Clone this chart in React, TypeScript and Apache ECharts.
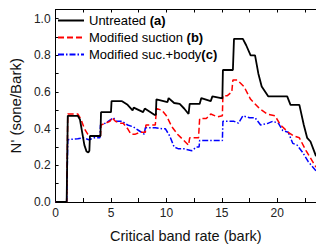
import React, { useEffect, useRef } from "react";
import * as echarts from "echarts";

// Untreated (a)
const untreatedX = [0, 1.0, 1.1, 2.0, 2.2, 2.4, 2.6, 2.8, 2.95, 3.05, 3.1, 4.05, 4.1, 5.0, 5.05, 6.0, 6.5, 6.95, 7.05, 7.9, 8.05, 8.95, 9.05, 9.1, 10.1, 10.2, 10.7, 11.2, 11.6, 12.0, 12.1, 13.0, 13.15, 14.0, 14.15, 15.05, 15.1, 16.0, 16.1, 16.9, 17.2, 17.6, 18.0, 18.3, 18.6, 19.2, 20.9, 21.2, 22.0, 22.4, 22.7, 23.0, 23.5];
const untreatedY = [0, 0, 0.47, 0.47, 0.45, 0.38, 0.31, 0.275, 0.27, 0.28, 0.36, 0.36, 0.49, 0.49, 0.55, 0.55, 0.53, 0.5, 0.515, 0.49, 0.51, 0.475, 0.475, 0.56, 0.545, 0.567, 0.54, 0.535, 0.51, 0.48, 0.535, 0.535, 0.567, 0.55, 0.576, 0.565, 0.72, 0.72, 0.89, 0.89, 0.855, 0.8, 0.8, 0.7, 0.63, 0.576, 0.576, 0.53, 0.53, 0.42, 0.35, 0.33, 0.25];

// Modified suction (b)
const suctionX = [0, 1.0, 1.1, 2.0, 2.3, 2.6, 2.9, 3.1, 4.05, 4.1, 4.5, 4.9, 5.1, 5.4, 5.8, 6.1, 6.5, 6.8, 7.2, 7.6, 8.1, 8.15, 9.0, 9.1, 9.6, 10.0, 10.5, 11.0, 11.5, 12.0, 12.1, 12.9, 13.0, 13.6, 14.0, 14.6, 15.05, 15.1, 15.5, 15.9, 16.0, 16.4, 17.0, 17.6, 18.4, 19.1, 19.8, 20.3, 21.0, 21.5, 22.0, 22.6, 23.5];
const suctionY = [0, 0, 0.48, 0.48, 0.45, 0.4, 0.37, 0.36, 0.36, 0.42, 0.43, 0.44, 0.46, 0.44, 0.43, 0.43, 0.4, 0.37, 0.37, 0.38, 0.38, 0.42, 0.42, 0.51, 0.5, 0.47, 0.41, 0.37, 0.34, 0.31, 0.35, 0.35, 0.455, 0.455, 0.48, 0.465, 0.47, 0.58, 0.58, 0.6, 0.665, 0.665, 0.63, 0.56, 0.51, 0.48, 0.47, 0.42, 0.38, 0.36, 0.35, 0.28, 0.19];

// Modified suc.+body (c)
const bodyX = [0, 1.0, 1.1, 2.0, 2.5, 3.0, 3.5, 4.0, 4.05, 4.5, 5.0, 5.2, 5.5, 6.0, 6.5, 7.0, 7.5, 8.0, 8.1, 9.0, 9.6, 9.9, 10.3, 10.7, 11.1, 11.6, 12.3, 12.7, 12.95, 13.0, 14.0, 15.05, 15.1, 16.1, 16.5, 16.9, 17.5, 18.0, 18.5, 19.2, 19.6, 20.1, 20.5, 21.0, 21.4, 21.8, 22.3, 22.8, 23.5];
const bodyY = [0, 0, 0.34, 0.345, 0.35, 0.34, 0.35, 0.35, 0.42, 0.43, 0.45, 0.46, 0.44, 0.44, 0.42, 0.41, 0.39, 0.37, 0.405, 0.405, 0.4, 0.4, 0.36, 0.3, 0.29, 0.29, 0.28, 0.3, 0.3, 0.335, 0.335, 0.335, 0.44, 0.44, 0.43, 0.47, 0.46, 0.46, 0.42, 0.43, 0.44, 0.43, 0.39, 0.38, 0.32, 0.31, 0.27, 0.22, 0.17];

const seriesNames = ["Untreated", "Modified suction", "Modified suc.+body"];
const seriesTags = ["(a)", "(b)", "(c)"];
const seriesLabels = ["Untreated ", "Modified suction ", "Modified suc.+body"];

const xTickLabels = [0, 5, 10, 15, 20];
const xTicks = [0, 2.5, 5, 7.5, 10, 12.5, 15, 17.5, 20, 22.5];
const yTickLabels = [0, 0.2, 0.4, 0.6, 0.8, 1.0];
const yTicks = [0, 0.1, 0.2, 0.3, 0.4, 0.5, 0.6, 0.7, 0.8, 0.9, 1.0];

const zip = (xs: number[], ys: number[]) => xs.map((x, i) => [x, ys[i]]);

const FONT = "'Liberation Sans', Arial, sans-serif";

export default function App() {
  const ref = useRef<HTMLDivElement>(null);
  useEffect(() => {
    if (!ref.current) return;
    const chart = echarts.init(ref.current, null, { renderer: "svg" });
    const axisCommon = {
      axisLine: { show: true, onZero: false, lineStyle: { color: "#000", width: 1 } },
      splitLine: { show: false },
    };
    chart.setOption({
      animation: false,
      textStyle: { fontFamily: FONT },
      grid: { left: 52, right: 0, top: 9.5, bottom: 38, containLabel: false },
      legend: {
        orient: "vertical",
        left: 57,
        top: 14,
        padding: [0, 0, 0, 0],
        itemWidth: 26,
        itemHeight: 10,
        itemGap: 4,
        data: seriesNames,
        itemStyle: { opacity: 0 },
        formatter: (name: string) => {
          const i = seriesNames.indexOf(name);
          return `${seriesLabels[i]}{b|${seriesTags[i]}}`;
        },
        textStyle: {
          fontSize: 13,
          color: "#000",
          fontFamily: FONT,
          rich: { b: { fontSize: 13, fontWeight: "bold", color: "#000", fontFamily: FONT } },
        },
      },
      xAxis: [
        {
          type: "value",
          min: 0,
          max: 23.5,
          position: "bottom",
          ...axisCommon,
          axisTick: { show: true, inside: true, length: 4, customValues: xTicks, lineStyle: { color: "#000" } },
          axisLabel: { customValues: xTickLabels, color: "#222", fontSize: 12, margin: 5, fontFamily: FONT },
          name: "Critical band rate (bark)",
          nameLocation: "middle",
          nameGap: 26,
          nameTextStyle: { fontSize: 14.5, color: "#111", fontFamily: FONT },
        },
        {
          type: "value",
          min: 0,
          max: 23.5,
          position: "top",
          ...axisCommon,
          axisTick: { show: true, inside: true, length: 3, customValues: xTicks, lineStyle: { color: "#000" } },
          axisLabel: { show: false },
        },
      ],
      yAxis: {
        type: "value",
        min: 0,
        max: 1.05,
        ...axisCommon,
        axisTick: { show: true, inside: true, length: 3, customValues: yTicks, lineStyle: { color: "#000" } },
        axisLabel: {
          customValues: yTickLabels,
          formatter: (v: number) => v.toFixed(1),
          color: "#222",
          fontSize: 12,
          margin: 5,
          fontFamily: FONT,
        },
        name: "N' (sone/Bark)",
        nameLocation: "middle",
        nameRotate: 90,
        nameGap: 23,
        nameTextStyle: { fontSize: 15, color: "#111", fontFamily: FONT },
      },
      series: [
        {
          name: seriesNames[0],
          type: "line",
          symbol: "none",
          data: zip(untreatedX, untreatedY),
          lineStyle: { color: "#000", width: 1.8, type: "solid" },
          itemStyle: { color: "#000" },
          z: 3,
        },
        {
          name: seriesNames[1],
          type: "line",
          symbol: "none",
          data: zip(suctionX, suctionY),
          lineStyle: { color: "#ff0000", width: 1.5, type: [6, 3] },
          itemStyle: { color: "#ff0000" },
          z: 2,
        },
        {
          name: seriesNames[2],
          type: "line",
          symbol: "none",
          data: zip(bodyX, bodyY),
          lineStyle: { color: "#0000ff", width: 1.5, type: [6, 2, 1.5, 2] },
          itemStyle: { color: "#0000ff" },
          z: 1,
        },
      ],
    });
    return () => chart.dispose();
  }, []);
  return <div ref={ref} style={{ width: 316, height: 248, position: "absolute", left: 0, top: 0 }} />;
}
